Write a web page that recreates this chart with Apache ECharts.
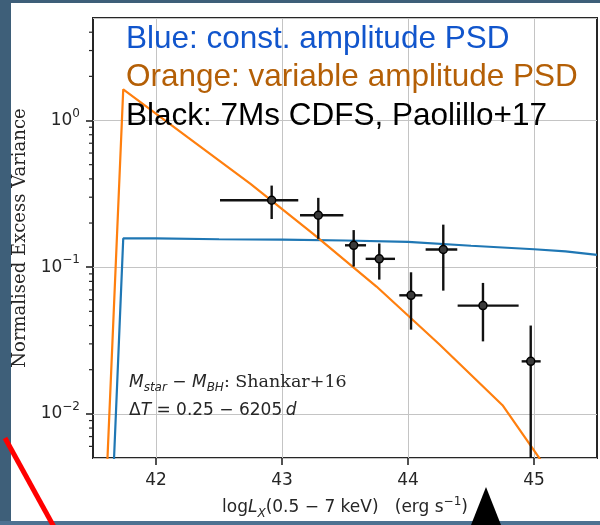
<!DOCTYPE html>
<html>
<head>
<meta charset="utf-8">
<script src="https://cdn.jsdelivr.net/npm/echarts@6/dist/echarts.min.js"></script>
<style>html,body{margin:0;padding:0;background:#3e5f79;}#c{width:600px;height:525px;}</style>
</head>
<body>
<div id="c"></div>
<script>
// ---- data ----
const xTicks = [42, 43, 44, 45];
const yTickValues = [0.01, 0.1, 1];
const yTickExponents = ['−2', '−1', '0'];
const yMinorTicks = [0.006, 0.007, 0.008, 0.009, 0.02, 0.03, 0.04, 0.05, 0.06, 0.07, 0.08, 0.09,
                     0.2, 0.3, 0.4, 0.5, 0.6, 0.7, 0.8, 0.9, 2, 3, 4];

// constant amplitude PSD (blue)
const blueX = [41.60, 41.74, 42.0, 42.5, 43.0, 43.5, 44.0, 44.5, 45.0, 45.25, 45.5];
const blueY = [0.00021, 0.157, 0.157, 0.155, 0.154, 0.152, 0.149, 0.140, 0.1325, 0.128, 0.1213];

// variable amplitude PSD (orange)
const orangeX = [41.60, 41.74, 42.25, 42.75, 43.25, 43.75, 44.25, 44.75, 45.10];
const orangeY = [0.0025, 1.63, 0.770, 0.370, 0.168, 0.0738, 0.0297, 0.01145, 0.00424];

// 7Ms CDFS, Paolillo+17 (black)
const ptX    = [42.918, 43.288, 43.569, 43.772, 44.024, 44.280, 44.595, 44.974];
const ptY    = [0.286, 0.226, 0.141, 0.114, 0.0643, 0.132, 0.0547, 0.0228];
const ptXLo  = [42.508, 43.143, 43.500, 43.664, 43.931, 44.140, 44.394, 44.902];
const ptXHi  = [43.129, 43.487, 43.667, 43.897, 44.114, 44.391, 44.878, 45.053];
const ptYLo  = [0.213, 0.156, 0.101, 0.0823, 0.0375, 0.0692, 0.0312, 0.001];
const ptYHi  = [0.360, 0.297, 0.179, 0.145, 0.0923, 0.195, 0.0781, 0.040];

const xMin = 41.5, xMax = 45.5, yMin = 0.005, yMax = 5;

// ---- build ----
const chart = echarts.init(document.getElementById('c'), null, {renderer: 'canvas'});
const ink = '#262626';
const sans = 'DejaVu Sans';

const errData = ptX.map((x, i) => [x, ptY[i], ptXLo[i], ptXHi[i], ptYLo[i], ptYHi[i]]);

const option = {
  backgroundColor: '#3e5f79',
  animation: false,
  grid: {left: 93, top: 18, width: 504, height: 440, show: true, backgroundColor: '#ffffff',
         borderColor: ink, borderWidth: 2},
  xAxis: {
    type: 'value', min: xMin, max: xMax,
    axisLine: {show: false},
    axisTick: {show: true, length: 7, lineStyle: {color: ink, width: 1.6}, customValues: xTicks},
    axisLabel: {customValues: xTicks, color: ink, fontFamily: sans, fontSize: 17, margin: 14},
    splitLine: {show: true, lineStyle: {color: '#c4c4c4', width: 1}},
    name: '{n|log}{i|L}{sub|X}{n|(0.5 − 7 keV)   (erg s}{sup|−1}{n|)}',
    nameLocation: 'middle', nameGap: 38,
    nameTextStyle: {
      color: ink,
      rich: {
        n: {fontFamily: sans, fontSize: 17, color: ink, lineHeight: 24},
        i: {fontFamily: sans, fontStyle: 'italic', fontSize: 17, color: ink, lineHeight: 24},
        sub: {fontFamily: sans, fontStyle: 'italic', fontSize: 12, color: ink, verticalAlign: 'bottom', lineHeight: 12},
        sup: {fontFamily: sans, fontSize: 12, color: ink, verticalAlign: 'top', lineHeight: 12}
      }
    }
  },
  yAxis: {
    type: 'log', logBase: 10, min: yMin, max: yMax,
    axisLine: {show: false},
    axisTick: {show: true, length: 7, lineStyle: {color: ink, width: 1.6}},
    axisLabel: {
      color: ink, margin: 13, showMinLabel: false, showMaxLabel: false,
      formatter: function (v) {
        for (let i = 0; i < yTickValues.length; i++) {
          if (Math.abs(Math.log10(v) - Math.log10(yTickValues[i])) < 1e-6) return '{b|10}{s|' + yTickExponents[i] + '}';
        }
        return '';
      },
      rich: {
        b: {fontFamily: sans, fontSize: 17, color: ink, lineHeight: 26},
        s: {fontFamily: sans, fontSize: 12, color: ink, verticalAlign: 'top', lineHeight: 12}
      }
    },
    splitLine: {show: true, lineStyle: {color: '#c4c4c4', width: 1}},
    name: 'Normalised Excess Variance',
    nameLocation: 'middle', nameGap: 59,
    nameTextStyle: {fontFamily: 'DejaVu Serif', fontSize: 18, color: ink}
  },
  series: [
    {
      type: 'line', name: 'const', data: blueX.map((x, i) => [x, blueY[i]]),
      showSymbol: false, symbol: 'none', clip: true,
      lineStyle: {color: '#1f77b4', width: 2.2}, z: 3
    },
    {
      type: 'line', name: 'variable', data: orangeX.map((x, i) => [x, orangeY[i]]),
      showSymbol: false, symbol: 'none', clip: true,
      lineStyle: {color: '#ff7f0e', width: 2.2}, z: 4
    },
    {
      type: 'custom', name: 'errbars', data: errData, clip: true, z: 5,
      renderItem: function (params, api) {
        const x = api.value(0), y = api.value(1);
        const l = api.coord([api.value(2), y]), r = api.coord([api.value(3), y]);
        const b = api.coord([x, api.value(4)]), t = api.coord([x, api.value(5)]);
        const st = {stroke: '#111', lineWidth: 2.4};
        return {type: 'group', children: [
          {type: 'line', shape: {x1: l[0], y1: l[1], x2: r[0], y2: r[1]}, style: st},
          {type: 'line', shape: {x1: b[0], y1: b[1], x2: t[0], y2: t[1]}, style: st}
        ]};
      }
    },
    {
      type: 'scatter', name: 'pts', data: ptX.map((x, i) => [x, ptY[i]]),
      symbol: 'circle', symbolSize: 8, z: 6,
      itemStyle: {color: '#3a3a3a', borderColor: '#000', borderWidth: 1.5, opacity: 1}
    },
    {
      type: 'custom', name: 'minorTicks', data: yMinorTicks.map(v => [xMin, v]), clip: false, z: 6,
      renderItem: function (params, api) {
        const p = api.coord([api.value(0), api.value(1)]);
        return {type: 'line', shape: {x1: p[0] - 4, y1: p[1], x2: p[0], y2: p[1]},
                style: {stroke: ink, lineWidth: 1.2}};
      }
    }
  ],
  graphic: [
    {type: 'rect', z: -100, shape: {x: 11, y: 3, width: 589, height: 518}, style: {fill: '#ffffff'}},
    {type: 'rect', z: -100, shape: {x: 0, y: 521, width: 600, height: 4}, style: {fill: '#4d7191'}},
    {type: 'text', z: 100, x: 126, y: 50 - 11, style: {text: 'Blue: const. amplitude PSD', fill: '#1155cc',
      font: '31.5px "Liberation Sans"', verticalAlign: 'middle'}},
    {type: 'text', z: 100, x: 126, y: 88.3 - 11, style: {text: 'Orange: variable amplitude PSD', fill: '#b45f06',
      font: '31.5px "Liberation Sans"', verticalAlign: 'middle'}},
    {type: 'text', z: 100, x: 126, y: 127.7 - 11, style: {text: 'Black: 7Ms CDFS, Paolillo+17', fill: '#000000',
      font: '31.5px "Liberation Sans"', verticalAlign: 'middle'}},
    {type: 'text', z: 100, x: 129, y: 371, style: {
      text: '{i|M}{sub|star}{n| − }{i|M}{sub|BH}{s|: Shankar+16}', verticalAlign: 'top',
      rich: {
        i: {fontFamily: sans, fontStyle: 'italic', fontSize: 17, fill: ink, lineHeight: 23},
        n: {fontFamily: sans, fontSize: 17, fill: ink, lineHeight: 23},
        s: {fontFamily: 'DejaVu Serif', fontSize: 17.5, fill: ink, lineHeight: 23},
        sub: {fontFamily: sans, fontStyle: 'italic', fontSize: 12, fill: ink, lineHeight: 12, verticalAlign: 'bottom'}
      }}},
    {type: 'text', z: 100, x: 129, y: 399, style: {
      text: '{n|Δ}{i|T}{n| = 0.25 − 6205\u2009}{i|d}', verticalAlign: 'top',
      rich: {
        i: {fontFamily: sans, fontStyle: 'italic', fontSize: 17, fill: ink, lineHeight: 23},
        n: {fontFamily: sans, fontSize: 17, fill: ink, lineHeight: 23}
      }}},
    {type: 'polyline', z: 100, shape: {points: [[54, 527], [5, 438]]}, style: {stroke: '#ff0000', lineWidth: 5}},
    {type: 'polygon', z: 100, shape: {points: [[486, 487], [471, 525], [501, 525]]}, style: {fill: '#000000'}}
  ]
};
chart.setOption(option);
</script>
</body>
</html>
